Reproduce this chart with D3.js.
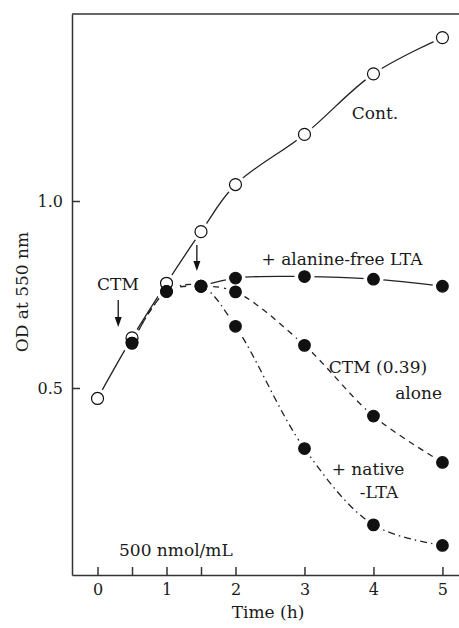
<!DOCTYPE html>
<html lang="en">
<head>
<meta charset="UTF-8">
<title>OD at 550 nm</title>
<script src="https://cdn.jsdelivr.net/npm/d3@7"></script>
<style>
  body { margin: 0; background: #fff; }
  text { font-family: "DejaVu Serif", serif; fill: #1a1a1a; }
</style>
</head>
<body>
<script>
  // data
  let contTime = [0, 0.5, 1, 1.5, 2, 3, 4, 5];
  let contOD = [0.472, 0.634, 0.78, 0.918, 1.044, 1.178, 1.34, 1.437];

  let ctmTime = [0.5, 1, 1.5, 2, 3, 4, 5];
  let ctmOD = [0.62, 0.758, 0.772, 0.757, 0.614, 0.425, 0.301];

  let alaTime = [1.5, 2, 3, 4, 5];
  let alaOD = [0.772, 0.794, 0.798, 0.791, 0.772];

  let natTime = [0.5, 1, 1.5, 2, 3, 4, 5];
  let natOD = [0.62, 0.758, 0.772, 0.665, 0.338, 0.134, 0.079];

  let xTicks = [0, 0.5, 1, 1.5, 2, 3, 4, 5];
  let yTicks = [0.5, 1.0];

  let w = 459, h = 628;
  let svg = d3.select("body").append("svg").attr("width", w).attr("height", h);

  let x = d3.scaleLinear().domain([-0.37, 5.24]).range([72, 459]);
  let y = d3.scaleLinear().domain([0, 1.5]).range([575, 14]);

  // frame
  svg.append("line").attr("x1", 72).attr("x2", 459).attr("y1", 14).attr("y2", 14)
    .attr("stroke", "#333").attr("stroke-width", 1.5);

  let xAxis = svg.append("g").attr("transform", "translate(0,575)")
    .call(d3.axisBottom(x).tickValues(xTicks).tickSizeInner(-8).tickSizeOuter(0).tickPadding(9)
      .tickFormat(function (d) { return Number.isInteger(d) ? d : ""; }));
  let yAxis = svg.append("g").attr("transform", "translate(72,0)")
    .call(d3.axisLeft(y).tickValues(yTicks).tickSizeInner(-8).tickSizeOuter(0).tickPadding(9)
      .tickFormat(d3.format(".1f")));
  [xAxis, yAxis].forEach(function (a) {
    a.selectAll("path, line").attr("stroke", "#333").attr("stroke-width", 1.5);
    a.selectAll("text").attr("font-size", 16).attr("fill", "#1a1a1a")
      .attr("font-family", "DejaVu Serif, serif");
  });

  // curves
  let line = d3.line().x(function (d) { return x(d[0]); }).y(function (d) { return y(d[1]); })
    .curve(d3.curveCatmullRom.alpha(0.5));
  function pairs(t, v) { return t.map(function (d, i) { return [d, v[i]]; }); }

  let series = [
    { t: contTime, v: contOD, dash: null, open: true },
    { t: ctmTime, v: ctmOD, dash: "6,5", open: false },
    { t: alaTime, v: alaOD, dash: null, open: false },
    { t: natTime, v: natOD, dash: "7,4,1.5,4", open: false }
  ];

  series.forEach(function (s) {
    svg.append("path").attr("d", line(pairs(s.t, s.v)))
      .attr("fill", "none").attr("stroke", "#222").attr("stroke-width", 1.3)
      .attr("stroke-dasharray", s.dash);
  });

  // white halos give the gaps round the markers
  series.forEach(function (s) {
    svg.append("g").selectAll("circle").data(pairs(s.t, s.v)).enter().append("circle")
      .attr("cx", function (d) { return x(d[0]); }).attr("cy", function (d) { return y(d[1]); })
      .attr("r", 10).attr("fill", "#fff");
  });
  series.forEach(function (s) {
    svg.append("g").selectAll("circle").data(pairs(s.t, s.v)).enter().append("circle")
      .attr("cx", function (d) { return x(d[0]); }).attr("cy", function (d) { return y(d[1]); })
      .attr("r", s.open ? 6 : 5.8)
      .attr("fill", s.open ? "#fff" : "#111")
      .attr("stroke", "#111").attr("stroke-width", 1.2);
  });

  // arrows
  function arrow(xv, y1, y2) {
    svg.append("line").attr("x1", xv).attr("x2", xv).attr("y1", y1).attr("y2", y2 - 8)
      .attr("stroke", "#111").attr("stroke-width", 1.3);
    svg.append("path").attr("d", "M" + (xv - 3.5) + "," + (y2 - 10) + "L" + (xv + 3.5) + "," + (y2 - 10) + "L" + xv + "," + y2 + "Z")
      .attr("fill", "#111");
  }
  arrow(x(0.3), 300, 327);
  arrow(x(1.44), 245, 271);

  // labels
  function label(txt, xv, yv, anchor) {
    svg.append("text").attr("x", xv).attr("y", yv).attr("text-anchor", anchor || "middle")
      .attr("font-size", 17).text(txt);
  }
  label("CTM", 118, 290);
  label("Cont.", 375, 119);
  label("+ alanine-free LTA", 342, 265);
  label("CTM (0.39)", 378, 373);
  label("alone", 442, 399, "end");
  label("+ native", 368, 475);
  label("-LTA", 379, 498);
  label("500 nmol/mL", 119, 556, "start");
  label("Time (h)", 268, 618);

  svg.append("text").attr("transform", "translate(28,292) rotate(-90)")
    .attr("text-anchor", "middle").attr("font-size", 17).text("OD at 550 nm");
</script>
</body>
</html>
